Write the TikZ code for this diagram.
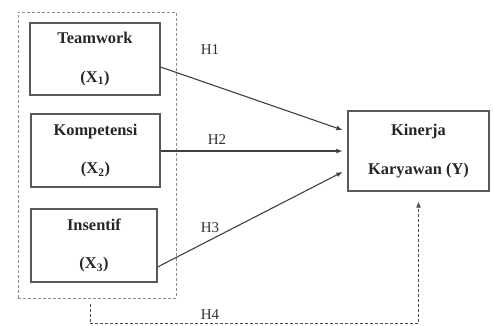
\documentclass[tikz,border=0pt]{standalone}
\usepackage{fontspec}
\setmainfont{Liberation Serif}
\usetikzlibrary{arrows.meta,calc}
\begin{document}
\begin{tikzpicture}[x=1pt,y=-1pt,
  varbox/.style={draw=black!65,line width=1.1pt,align=center,inner sep=0pt,
    font=\fontsize{16.4}{38.5}\selectfont\bfseries,text=black!85},
  outerbox/.style={draw=black!45,line width=1pt,dash pattern=on 3pt off 2pt,inner sep=0pt},
  link/.style={draw=black!75,line width=1.1pt,-{Latex[length=6pt,width=5pt]}},
  dlink/.style={draw=black!70,line width=1pt,dash pattern=on 3pt off 2pt,-{Latex[length=6pt,width=5pt]}},
  hlab/.style={font=\fontsize{15}{16}\selectfont,text=black!80,inner sep=0pt}]
\useasboundingbox (0,0) rectangle (494,325);
\node[outerbox,minimum width=158pt,minimum height=286pt] (outer) at (97,155) {};
\node[varbox,minimum width=130pt,minimum height=72pt] (tw) at (95,59) {Teamwork\\(X\textsubscript{1})};
\node[varbox,minimum width=129pt,minimum height=73pt] (ko) at (95.5,150.5) {Kompetensi\\(X\textsubscript{2})};
\node[varbox,minimum width=126pt,minimum height=73pt] (in) at (94,245.5) {Insentif\\(X\textsubscript{3})};
\node[varbox,minimum width=141pt,minimum height=80pt] (ki) at (418.5,151) {Kinerja\\Karyawan (Y)};
\draw[link] ($(tw.east)+(0,8)$) -- ($(ki.west)+(-5,-21)$);
\draw[link] ($(ko.east)+(0,0.5)$) -- ($(ki.west)+(-5,0)$);
\draw[link] ($(in.east)+(0,21.5)$) -- ($(ki.west)+(-5,21)$);
\coordinate (c1) at ($(outer.south)+(-7,25)$);
\coordinate (c2) at (ki.south |- c1);
\draw[dlink] ($(outer.south)+(-7,5)$) -- (c1) -- (c2) -- ($(ki.south)+(0,10)$);
\node[hlab] (h1) at (210,50) {H1};
\node[hlab] (h2) at (217,140) {H2};
\node[hlab] (h3) at (210,228) {H3};
\node[hlab] (h4) at (210,315) {H4};
\end{tikzpicture}
\end{document}
